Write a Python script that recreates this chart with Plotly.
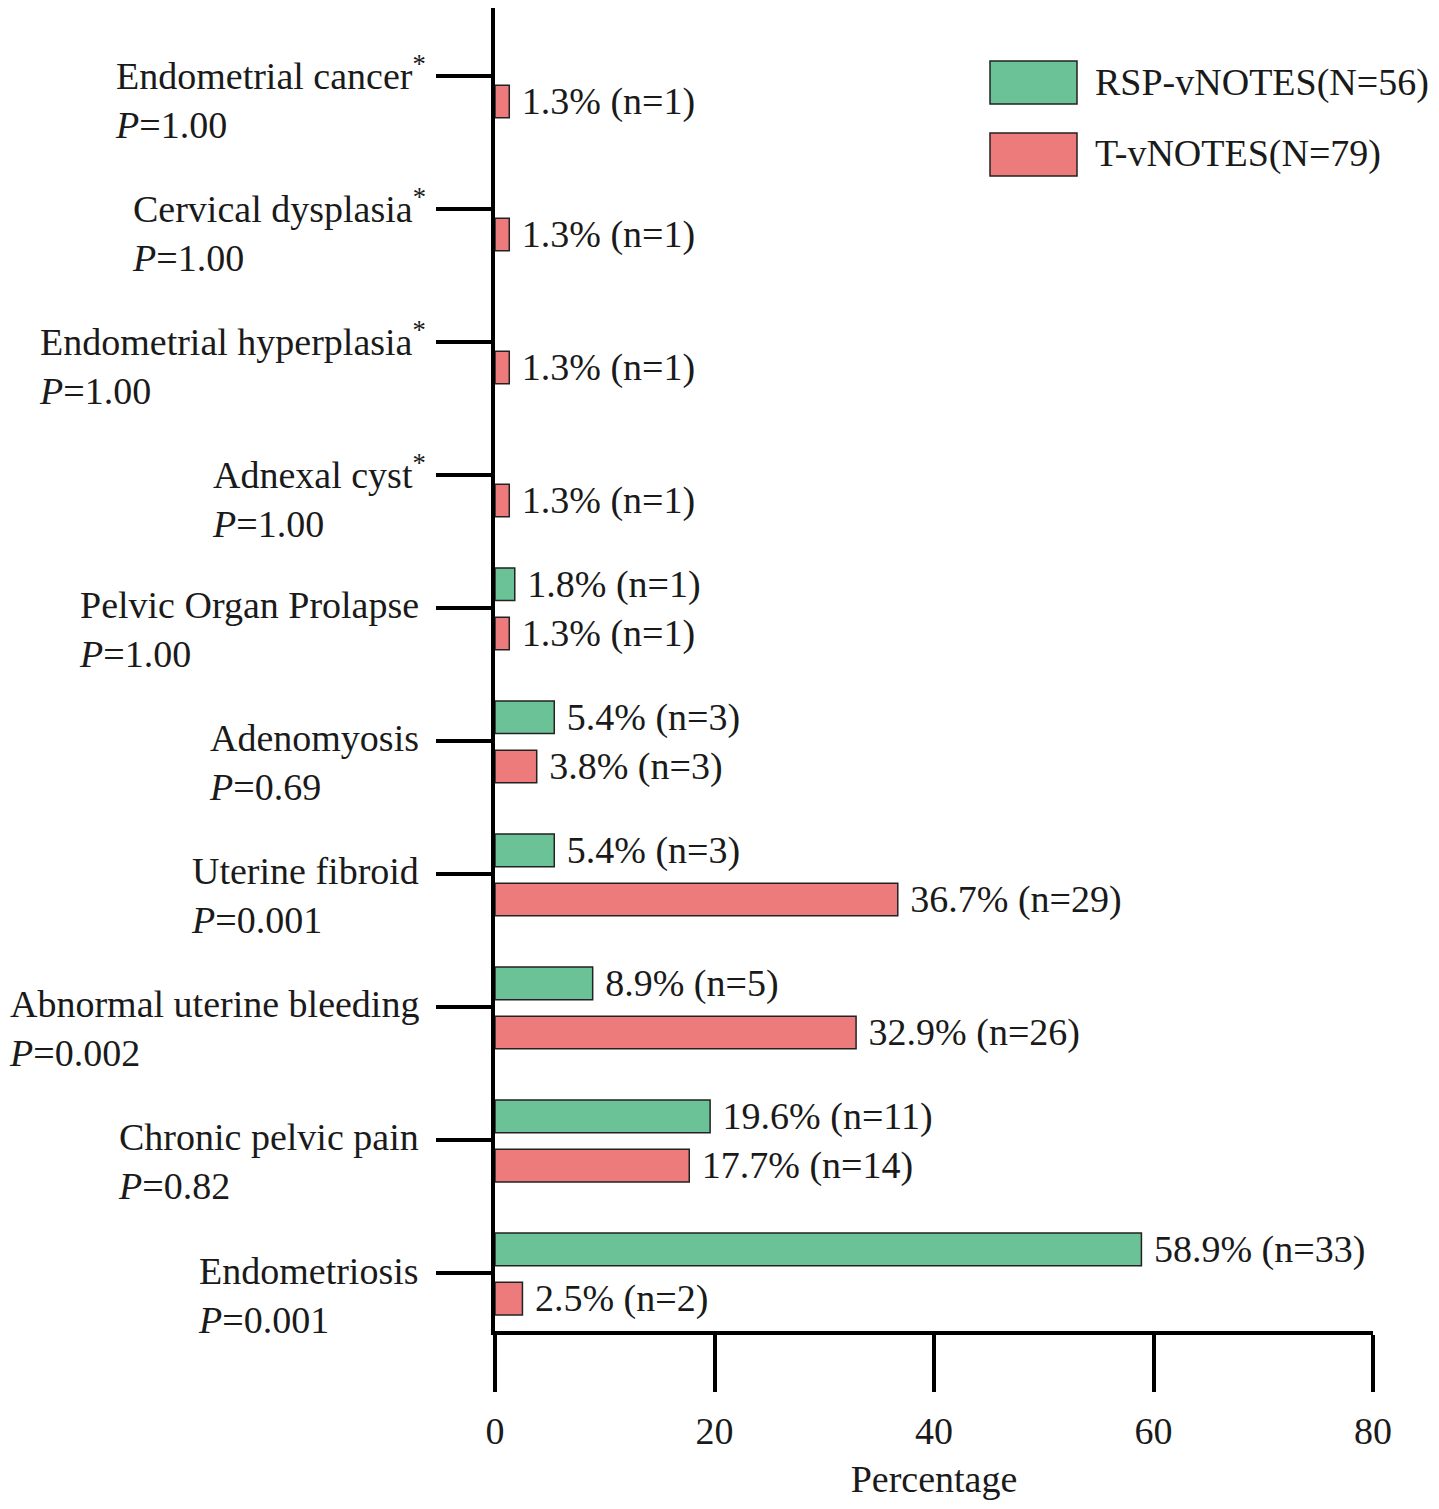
import plotly.graph_objects as go

# categories bottom -> top
categories = [
    "Endometriosis", "Chronic pelvic pain", "Abnormal uterine bleeding",
    "Uterine fibroid", "Adenomyosis", "Pelvic Organ Prolapse",
    "Adnexal cyst", "Endometrial hyperplasia", "Cervical dysplasia",
    "Endometrial cancer",
]
starred = [False, False, False, False, False, False, True, True, True, True]
p_values = ["0.001", "0.82", "0.002", "0.001", "0.69", "1.00",
            "1.00", "1.00", "1.00", "1.00"]

rsp_pct = [58.9, 19.6, 8.9, 5.4, 5.4, 1.8, None, None, None, None]
rsp_n = [33, 11, 5, 3, 3, 1, None, None, None, None]
t_pct = [2.5, 17.7, 32.9, 36.7, 3.8, 1.3, 1.3, 1.3, 1.3, 1.3]
t_n = [2, 14, 26, 29, 3, 1, 1, 1, 1, 1]

series_names = ["RSP-vNOTES(N=56)", "T-vNOTES(N=79)"]
x_ticks = [0, 20, 40, 60, 80]

GREEN = "#6cc297"
RED = "#ee7b7b"
FONT = "Liberation Serif"
INK = "#1a1a1a"
FS = 38


def present(pct, n):
    # only categories that have a bar; nbsp keeps a gap before the label
    rows = [(c, v, k) for c, v, k in zip(categories, pct, n) if v is not None]
    return ([r[0] for r in rows], [r[1] for r in rows],
            [f"\u00a0{r[1]}% (n={r[2]})" for r in rows])


fig = go.Figure()
for (pct, n), nm, col, off in [((rsp_pct, rsp_n), series_names[0], GREEN, 0.055),
                               ((t_pct, t_n), series_names[1], RED, -0.315)]:
    ys, xs, txt = present(pct, n)
    fig.add_trace(go.Bar(
        y=ys, x=xs, orientation="h", name=nm,
        offset=off, width=0.245,
        marker=dict(color=col, line=dict(color="#222", width=1.5)),
        text=txt, textposition="outside",
        textfont=dict(family=FONT, size=FS, color=INK),
        constraintext="none", cliponaxis=False, showlegend=False,
    ))

# two-line category labels: name on the tick, P value below, left aligned
for cat, star, p in zip(categories, starred, p_values):
    name = cat + ("<sup>*</sup>" if star else "")
    fig.add_annotation(
        x=0, xref="paper", y=cat, yref="y",
        text=f"{name}<br><i>P</i>={p}",
        showarrow=False, xanchor="right", yanchor="middle", align="left",
        xshift=-67 if star else -74, yshift=-22,
        font=dict(family=FONT, size=FS, color=INK),
    )

# legend drawn as big boxes like the original (page offset 8px)
W, H = 878.0, 1323.0
def px(x):
    return (x - 495) / W
def py(y):
    return (1331 - y) / H

for i, (nm, col) in enumerate(zip(series_names, [GREEN, RED])):
    top = 61 + i * 72
    fig.add_shape(type="rect", xref="paper", yref="paper",
                  x0=px(990), x1=px(1077), y0=py(top + 43), y1=py(top),
                  fillcolor=col, line=dict(color="#222", width=1.5))
    fig.add_annotation(x=px(1093), y=py(top + 21), xref="paper", yref="paper",
                       text=nm, showarrow=False, xanchor="left", yanchor="middle",
                       font=dict(family=FONT, size=FS, color=INK))

fig.update_layout(
    width=1431, height=1501,
    margin=dict(l=487, r=66, t=0, b=178),
    paper_bgcolor="white", plot_bgcolor="white",
    barmode="overlay",
    font=dict(family=FONT, size=FS, color=INK),
    xaxis=dict(
        range=[0, 80], tickvals=x_ticks, showgrid=False, zeroline=False,
        showline=True, linecolor="black", linewidth=4,
        ticks="outside", ticklen=57, tickwidth=4, tickcolor="black",
        ticklabelstandoff=6,
        tickfont=dict(family=FONT, size=FS, color=INK),
        title=dict(text="Percentage", standoff=16,
                   font=dict(family=FONT, size=FS, color=INK)),
    ),
    yaxis=dict(
        type="category", categoryorder="array", categoryarray=categories,
        range=[-0.436, 9.51], showgrid=False, zeroline=False,
        showline=True, linecolor="black", linewidth=4,
        ticks="outside", ticklen=55, tickwidth=4, tickcolor="black",
        showticklabels=False,
    ),
)

fig.write_html("out.html")
